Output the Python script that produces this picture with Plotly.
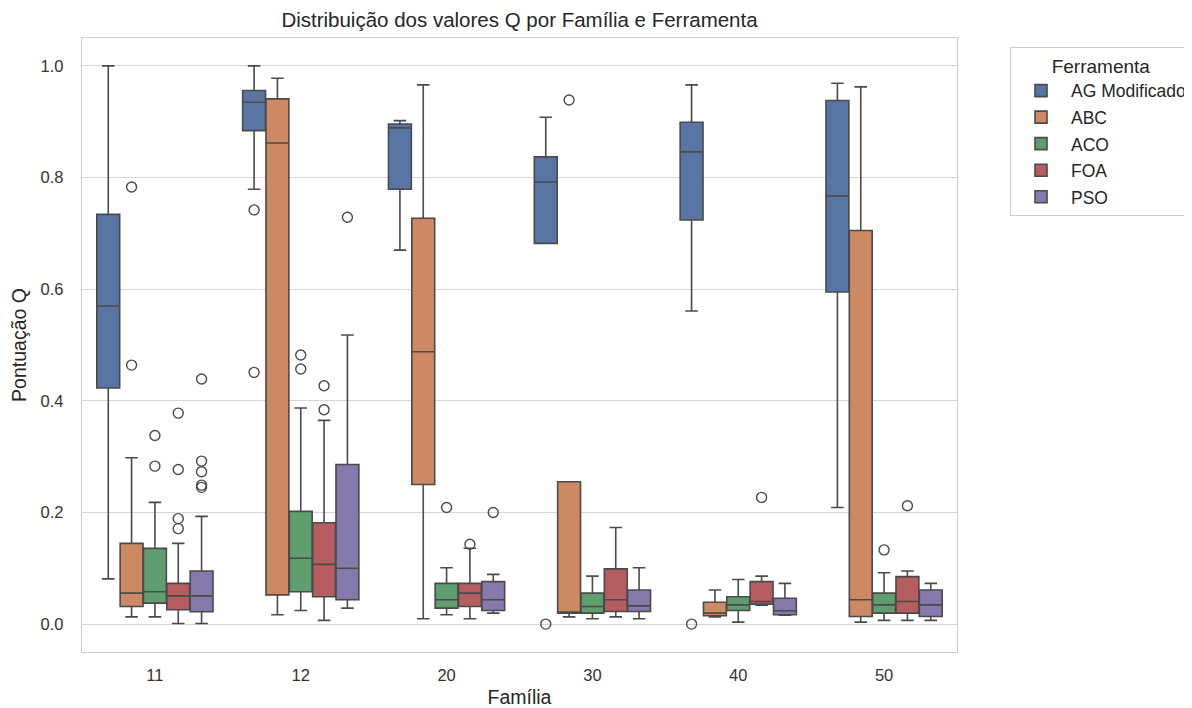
import plotly.graph_objects as go

families = ["11", "12", "20", "30", "40", "50"]
tools = ["AG Modificado", "ABC", "ACO", "FOA", "PSO"]
colors = ["#5975A4", "#CC8963", "#5F9E6E", "#B55D60", "#857AAB"]

# per tool (rows) x per family (columns)
lower = [
    [0.081, 0.779, 0.670, 0.682, 0.561, 0.209],
    [0.013, 0.0167, 0.0095, 0.013, 0.013, 0.0036],
    [0.013, 0.0244, 0.0167, 0.0095, 0.0036, 0.0066],
    [0.001, 0.0066, 0.0095, 0.013, 0.034, 0.0066],
    [0.001, 0.0286, 0.0196, 0.0095, 0.016, 0.0066],
]
q1 = [
    [0.423, 0.884, 0.779, 0.682, 0.724, 0.595],
    [0.0315, 0.0524, 0.250, 0.0196, 0.0149, 0.0137],
    [0.0375, 0.058, 0.0286, 0.0196, 0.0244, 0.0196],
    [0.0256, 0.049, 0.0315, 0.0226, 0.0357, 0.0196],
    [0.022, 0.0435, 0.0244, 0.0226, 0.0167, 0.0137],
]
median = [
    [0.570, 0.935, 0.889, 0.792, 0.846, 0.767],
    [0.0554, 0.862, 0.488, 0.0214, 0.0196, 0.0435],
    [0.058, 0.118, 0.0435, 0.0315, 0.0345, 0.0345],
    [0.0506, 0.107, 0.0554, 0.0435, 0.0405, 0.0405],
    [0.0506, 0.100, 0.0435, 0.0327, 0.0238, 0.0345],
]
q3 = [
    [0.734, 0.956, 0.896, 0.837, 0.899, 0.938],
    [0.1446, 0.941, 0.727, 0.255, 0.039, 0.705],
    [0.1357, 0.202, 0.073, 0.0554, 0.049, 0.0554],
    [0.073, 0.1815, 0.073, 0.099, 0.076, 0.085],
    [0.095, 0.286, 0.076, 0.061, 0.0464, 0.061],
]
upper = [
    [1.0, 1.0, 0.902, 0.908, 0.966, 0.969],
    [0.298, 0.978, 0.966, 0.255, 0.061, 0.9625],
    [0.218, 0.387, 0.101, 0.086, 0.080, 0.092],
    [0.1446, 0.365, 0.136, 0.173, 0.086, 0.095],
    [0.193, 0.518, 0.089, 0.101, 0.073, 0.073],
]
outliers = [
    [[], [0.742, 0.451], [], [0.0], [0.0], []],
    [[0.783, 0.464], [], [], [0.939], [], []],
    [[0.338, 0.283], [0.482, 0.457], [0.209], [], [], [0.133]],
    [[0.378, 0.277, 0.189, 0.171], [0.427, 0.384], [0.143], [], [0.227], [0.212]],
    [[0.439, 0.292, 0.273, 0.249, 0.245], [0.729], [0.200], [], [], []],
]

group_width = 0.8
n_tools = len(tools)
box_w = group_width / n_tools
line_col = "#4a4a4a"

fig = go.Figure()
for j, tool in enumerate(tools):
    pos = [i + (j - (n_tools - 1) / 2) * box_w for i in range(len(families))]
    fig.add_trace(go.Box(
        name=tool, x=pos,
        q1=q1[j], median=median[j], q3=q3[j],
        lowerfence=lower[j], upperfence=upper[j],
        width=box_w * 0.98, whiskerwidth=0.55,
        fillcolor=colors[j], line=dict(color=line_col, width=1.6),
        boxpoints=False, legendgroup=tool,
    ))
for j, tool in enumerate(tools):
    xs, ys = [], []
    for i in range(len(families)):
        p = i + (j - (n_tools - 1) / 2) * box_w
        for v in outliers[j][i]:
            xs.append(p)
            ys.append(v)
    fig.add_trace(go.Scatter(
        x=xs, y=ys, mode="markers", showlegend=False, legendgroup=tool,
        marker=dict(symbol="circle-open", size=10, color=line_col,
                    line=dict(width=1.4, color=line_col)),
        hoverinfo="y",
    ))

W, H = 1184, 700
L, T, PW, PH = 74, 30, 875, 614
font_family = "Liberation Sans, Arial, sans-serif"
fig.update_layout(
    width=W, height=H,
    paper_bgcolor="white", plot_bgcolor="white",
    margin=dict(l=L, r=W - L - PW, t=T, b=H - T - PH, autoexpand=False),
    font=dict(family=font_family, color="#262626", size=16),
    title=dict(text="Distribuição dos valores Q por Família e Ferramenta",
               x=(L + PW / 2) / W, xanchor="center",
               y=1 - 12 / H, yanchor="middle", yref="container",
               font=dict(size=20.5, color="#262626")),
    showlegend=True,
    legend=dict(
        title=dict(text="Ferramenta", side="top center", font=dict(size=19)),
        x=(1002 - L) / PW, xanchor="left", y=(T + PH - 39) / PH, yanchor="top",
        bordercolor="#cccccc", borderwidth=1, bgcolor="white",
        font=dict(size=17.5), tracegroupgap=0.8, itemwidth=50,
    ),
    xaxis=dict(
        range=[-0.5, 5.5], tickmode="array",
        tickvals=list(range(len(families))), ticktext=families,
        showgrid=False, zeroline=False, showline=True, mirror=True,
        linecolor="#cccccc", linewidth=1.3, ticks="",
        ticklabelstandoff=8, tickfont=dict(size=16.5, color="#333333"),
        title=dict(text="Família", font=dict(size=19.5), standoff=20),
    ),
    yaxis=dict(
        range=[-0.05, 1.05], tickvals=[0, 0.2, 0.4, 0.6, 0.8, 1.0],
        tickformat=".1f",
        showgrid=True, gridcolor="#d6d6d6", gridwidth=1, zeroline=False,
        showline=True, mirror=True, linecolor="#cccccc", linewidth=1.3, ticks="",
        ticklabelstandoff=14, tickfont=dict(size=16.5, color="#333333"),
        title=dict(text="Pontuação Q", font=dict(size=19.5), standoff=8),
    ),
)

fig.write_html("out.html")
